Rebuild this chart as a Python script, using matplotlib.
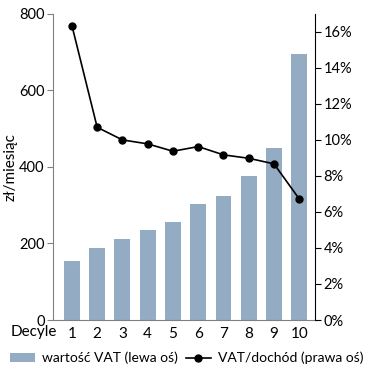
import matplotlib.pyplot as plt
from matplotlib.ticker import FuncFormatter

plt.rcParams['font.family'] = ['Lato', 'DejaVu Sans']

decyle = ['1', '2', '3', '4', '5', '6', '7', '8', '9', '10']
vat_zl = [155, 187, 211, 234, 256, 303, 323, 375, 450, 695]
vat_dochod = [16.35, 10.7, 10.0, 9.78, 9.37, 9.63, 9.17, 8.98, 8.67, 6.72]

bar_color = '#94abc4'

fig = plt.figure(figsize=(3.73, 3.78), dpi=100)
ax = fig.add_axes([0.142, 0.1534, 0.703, 0.81])
x = list(range(1, len(decyle) + 1))

bars = ax.bar(x, vat_zl, width=0.63, color=bar_color, label='wartość VAT (lewa oś)')
ax.set_xlim(0.25, 10.63)
ax.set_ylim(0, 800)
ax.set_yticks([0, 200, 400, 600, 800])
ax.set_xticks(x)
ax.set_xticklabels(decyle)
ax.tick_params(axis='x', length=0, labelsize=11, pad=5)
ax.tick_params(axis='y', labelsize=10.5, length=4, color='#808080', pad=2)
ax.spines['top'].set_visible(False)
ax.spines['right'].set_visible(False)
ax.spines['left'].set_color('#808080')
ax.spines['bottom'].set_color('#808080')
ax.set_ylabel('zł/miesiąc', fontsize=11, labelpad=1)
ax.text(0.015, -0.0175, 'Decyle', transform=ax.transAxes, ha='right', va='top', fontsize=11)

ax2 = ax.twinx()
line, = ax2.plot(x, vat_dochod, color='black', marker='o', markersize=5, linewidth=1.2,
                 label='VAT/dochód (prawa oś)')
ax2.set_ylim(0, 17)
ax2.set_yticks([0, 2, 4, 6, 8, 10, 12, 14, 16])
ax2.yaxis.set_major_formatter(FuncFormatter(lambda v, p: f'{v:.0f}%'))
ax2.tick_params(axis='y', labelsize=10.5, length=4, pad=2)
ax2.spines['top'].set_visible(False)
ax2.spines['left'].set_visible(False)
ax2.spines['bottom'].set_visible(False)

fig.legend([bars, line], ['wartość VAT (lewa oś)', 'VAT/dochód (prawa oś)'],
           loc='lower center', bbox_to_anchor=(0.5, 0.003), ncol=2, frameon=False,
           fontsize=10, handlelength=1.8, columnspacing=0.6, handletextpad=0.5)

fig.savefig('out.png', dpi=100)
